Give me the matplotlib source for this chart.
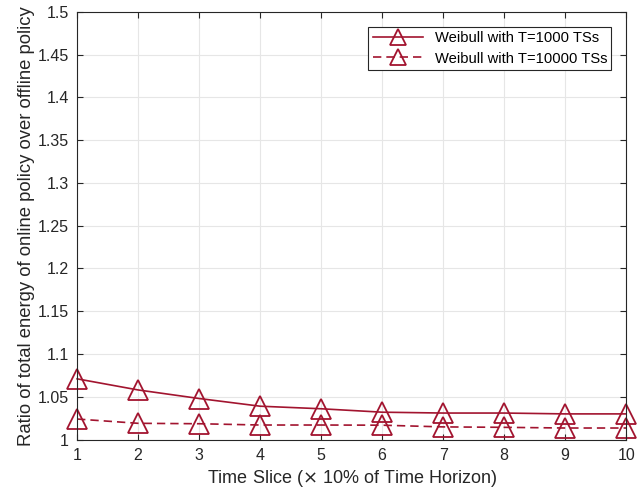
import numpy as np
import matplotlib.pyplot as plt

plt.rcParams['font.family'] = ['Liberation Sans', 'DejaVu Sans']

# data
time_slice = [1, 2, 3, 4, 5, 6, 7, 8, 9, 10]
ratio_T1000 = [1.071, 1.058, 1.048, 1.039, 1.036, 1.032, 1.031, 1.031, 1.030, 1.030]
ratio_T10000 = [1.024, 1.019, 1.0185, 1.017, 1.017, 1.0168, 1.0148, 1.0143, 1.0135, 1.0135]
ytick_vals = [1, 1.05, 1.1, 1.15, 1.2, 1.25, 1.3, 1.35, 1.4, 1.45, 1.5]
ytick_labels = ['1', '1.05', '1.1', '1.15', '1.2', '1.25', '1.3', '1.35', '1.4', '1.45', '1.5']

col = '#A2142F'

fig = plt.figure(figsize=(6.37, 4.95), dpi=100)
ax = fig.add_axes([0.121, 0.112, 0.862, 0.864])

ax.plot(time_slice, ratio_T1000, '-', color=col, linewidth=1.2, marker='^',
        markersize=14, markerfacecolor='none', markeredgewidth=1.3, clip_on=False,
        label='Weibull with T=1000 TSs')
ax.plot(time_slice, ratio_T10000, '--', color=col, linewidth=1.2, marker='^',
        markersize=14, markerfacecolor='none', markeredgewidth=1.3, clip_on=False,
        dashes=(5, 3), label='Weibull with T=10000 TSs')

ax.set_xlim(1, 10)
ax.set_ylim(1, 1.5)
ax.set_xticks(time_slice)
ax.set_yticks(ytick_vals)
ax.set_yticklabels(ytick_labels)
ax.grid(True, color='#e6e6e6', linewidth=0.8)
ax.set_axisbelow(True)
ax.tick_params(direction='in', labelsize=11.5, colors='#262626', top=True, right=True,
               length=4, pad=6)
for s in ax.spines.values():
    s.set_color('#262626')
    s.set_linewidth(0.8)

ax.set_xlabel('Time Slice ($\\times$ 10% of Time Horizon)', fontsize=13, color='#262626')
ax.set_ylabel('Ratio of total energy of online policy over offline policy', fontsize=13.3,
              color='#262626', labelpad=2)

leg = ax.legend(loc='upper right', fontsize=10.6, fancybox=False, framealpha=1,
                edgecolor='#262626', handlelength=3.4, borderaxespad=1.0,
                borderpad=0.3, labelspacing=0.45, markerscale=0.85)
leg.get_frame().set_linewidth(0.8)

fig.savefig('out.png', dpi=100)
